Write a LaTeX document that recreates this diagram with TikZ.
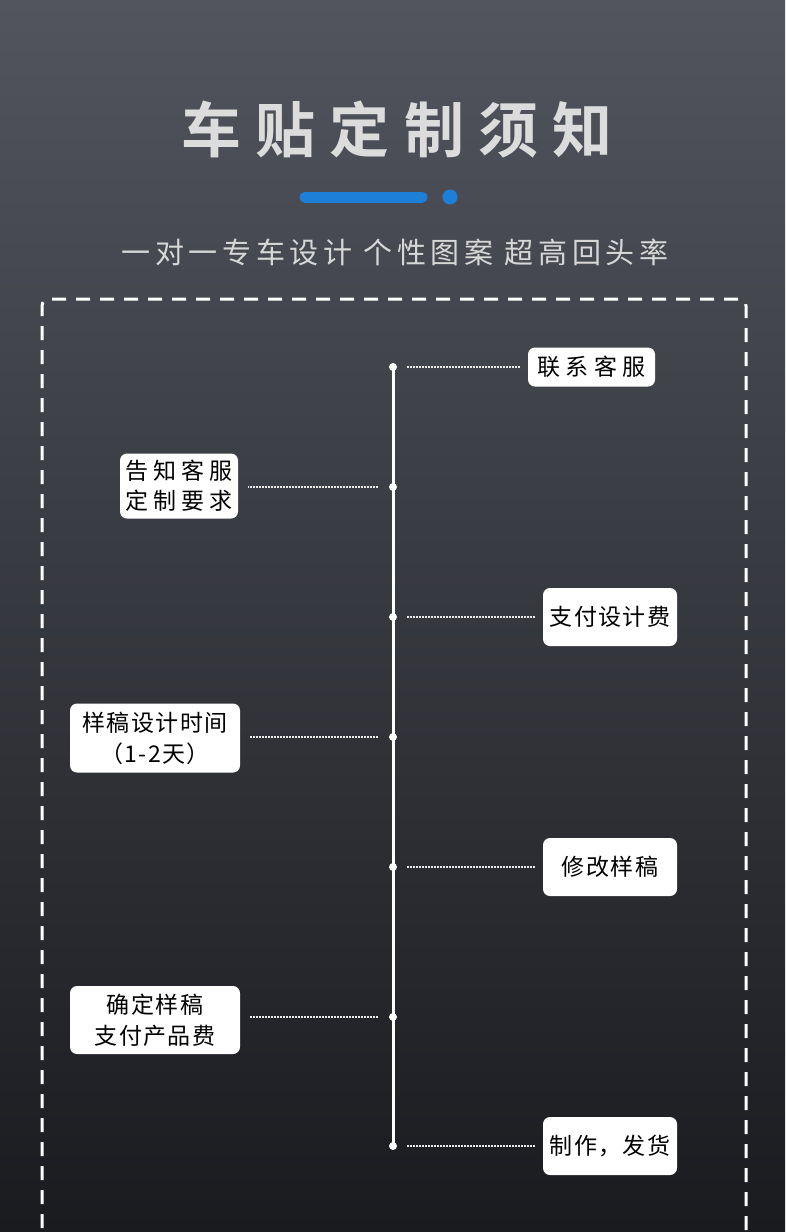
\documentclass[tikz,border=0pt]{standalone}
\usepackage{fontspec}
\usepackage{xcolor}
\usepackage{tikz}
\newfontfamily\cjk{Noto Sans CJK SC}
\newfontfamily\cjktitolo{Noto Sans CJK SC Bold}[LetterSpace=24]
\newfontfamily\cjksotto{Noto Sans CJK SC}[LetterSpace=16]
\newfontfamily\cjkbox{Noto Sans CJK SC}[LetterSpace=6]
\newfontfamily\cjkboxlargo{Noto Sans CJK SC}[LetterSpace=22]
\definecolor{sfondoalto}{HTML}{52555E}
\definecolor{sfondomezzo}{HTML}{33353B}
\definecolor{sfondobasso}{HTML}{1A1B1F}
\definecolor{blu}{HTML}{1E7FD8}
\definecolor{grigiochiaro}{HTML}{DCDCDC}

\begin{document}
\begin{tikzpicture}[x=1pt, y=-1pt,
    passo/.style={fill=white, rounded corners=7pt, inner sep=2pt,
        align=center, font=\cjkbox\fontsize{23}{31}\selectfont, text=black},
    largo/.style={font=\cjkboxlargo\fontsize{23}{30}\selectfont},
    punto/.style={circle, fill=white, inner sep=0pt, minimum size=8pt},
    collega/.style={draw=white!85!gray, line width=1.2pt, dash pattern=on 2pt off 1pt}]
        % Sfondo
        \useasboundingbox (0,0) rectangle (785,1232);
        \clip (0,0) rectangle (785,1232);
        \shade[top color=sfondoalto, middle color=sfondomezzo, bottom color=sfondobasso]
            (0,0) rectangle (785,1232);

        % Titolo
        \node[text=grigiochiaro, font=\cjktitolo\fontsize{60}{64}\selectfont] (titolo)
            at (397,130) {车贴定制须知};
        \draw[blu, line width=11pt, line cap=round] (305,197) -- (422,197);
        \fill[blu] (450,197) circle (7.5);
        \node[text=grigiochiaro!95!gray, font=\cjksotto\fontsize{29}{32}\selectfont] (sottotitolo)
            at (395,252) {一对一专车设计 个性图案 超高回头率};

        % Cornice tratteggiata
        \draw[white, line width=3pt, rounded corners=7pt, dash pattern=on 14pt off 10pt]
            (42,1300) -- (42,299) -- (746,299) -- (746,1300);

        % Linea verticale
        \draw[white, line width=3pt] (393,367) -- (393,1146);
        \foreach \n/\y in {1/367, 2/487, 3/617, 4/737, 5/867, 6/1017, 7/1146}
            \node[punto] (d\n) at (393,\y) {};

        % Passi
        \node[passo, largo, minimum width=127pt, minimum height=39pt] (b1) at (591.5,367) {联系客服};
        \node[passo, largo, minimum width=118pt, minimum height=65pt] (b2) at (179,486) {告知客服\\定制要求};
        \node[passo, minimum width=134pt, minimum height=58pt] (b3) at (610,617) {支付设计费};
        \node[passo, minimum width=170pt, minimum height=69pt] (b4) at (155,738) {样稿设计时间\\（1-2天）};
        \node[passo, minimum width=134pt, minimum height=58pt] (b5) at (610,867) {修改样稿};
        \node[passo, minimum width=170pt, minimum height=68pt] (b6) at (155,1020) {确定样稿\\支付产品费};
        \node[passo, minimum width=134pt, minimum height=58pt] (b7) at (610,1146) {制作，发货};

        % Collegamenti
        \foreach \n in {1,3,5,7}
            \draw[collega] ([xshift=14pt]d\n.center) -- ([xshift=-8pt]b\n.west |- d\n);
        \foreach \n in {2,4,6}
            \draw[collega] ([xshift=-15pt]d\n.center) -- ([xshift=10pt]b\n.east |- d\n);
    \end{tikzpicture}
\end{document}
